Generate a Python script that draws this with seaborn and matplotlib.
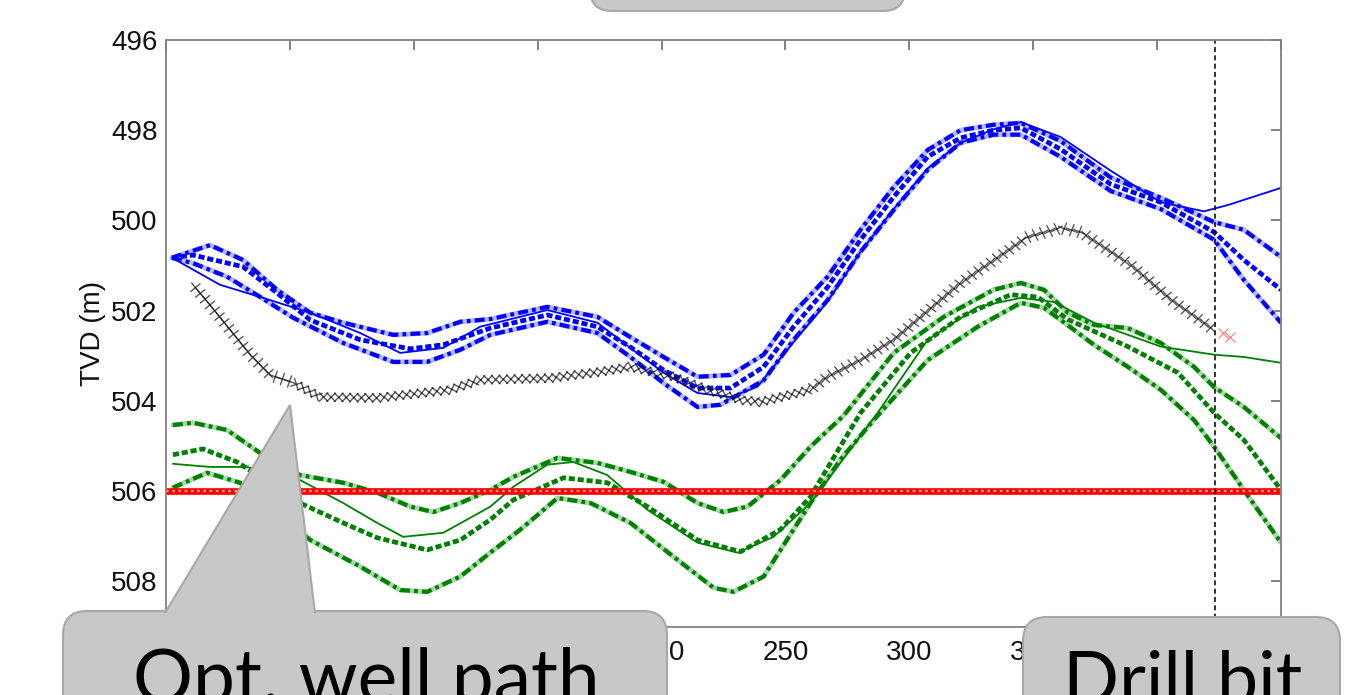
import matplotlib
matplotlib.use("Agg")
import matplotlib.pyplot as plt
import matplotlib.patheffects as pe
from matplotlib.patches import FancyBboxPatch, Polygon
from matplotlib.transforms import IdentityTransform
import seaborn as sns

# ---- data (x = along-hole distance, y = TVD in m) ----
blue_true_x = [2.4, 21.8, 38, 58.2, 78.4, 94.5, 111.9, 126.8, 153.9, 174.1, 187.4, 200.8, 214.5, 227.8,
               238.7, 253.3, 267, 280.3, 293.7, 307.4, 320.7, 334, 345, 361, 381.3, 401.5, 418.9,
               428.6, 450]
blue_true_y = [500.83, 501.43, 501.7, 502.05, 502.5, 502.94, 502.83, 502.36, 501.99, 502.27, 502.83,
               503.38, 503.83, 503.92, 503.69, 502.7, 501.8, 500.7, 499.75, 498.85, 498.28, 497.98,
               497.82, 498.15, 498.9, 499.6, 499.8, 499.66, 499.28]

blue_up_x = [2.4, 17.8, 31.1, 44.8, 58.2, 71.5, 91.7, 105.4, 118.8, 130.9, 153.9, 174.1, 187.4, 200.8,
             214.5, 227.8, 241.2, 253.3, 267, 280.3, 293.7, 307.4, 320.7, 334, 345, 361, 381.3, 401.5,
             423, 435, 450]
blue_up_y = [500.83, 500.55, 500.88, 501.54, 502.05, 502.27, 502.54, 502.5, 502.25, 502.19, 501.92,
             502.14, 502.59, 503.03, 503.47, 503.43, 502.98, 502.05, 501.25, 500.21, 499.26, 498.44,
             498.0, 497.88, 497.84, 498.24, 499.05, 499.5, 500.04, 500.21, 500.81]

blue_mid_x = [2.4, 10.9, 31.1, 44.8, 58.2, 78.4, 98.6, 111.9, 130.9, 153.9, 174.1, 187.4, 200.8, 214.5,
              227.8, 241.2, 253.3, 267, 280.3, 293.7, 307.4, 320.7, 334, 345, 361, 381.3, 401.5, 423,
              435, 450]
blue_mid_y = [500.83, 500.77, 501.03, 501.61, 502.21, 502.65, 502.85, 502.76, 502.39, 502.1, 502.36,
              502.81, 503.32, 503.72, 503.72, 503.25, 502.36, 501.48, 500.43, 499.48, 498.59, 498.17,
              498.0, 497.95, 498.42, 499.2, 499.6, 500.26, 500.88, 501.54]

blue_low_x = [2.4, 10.9, 24.6, 38, 51.3, 71.5, 91.7, 105.4, 118.8, 130.9, 153.9, 174.1, 187.4, 200.8,
              214.5, 223.8, 241.2, 253.3, 267, 280.3, 293.7, 307.4, 320.7, 334, 345, 361, 381.3,
              401.5, 423, 435, 450]
blue_low_y = [500.83, 500.95, 501.25, 501.7, 502.16, 502.72, 503.14, 503.14, 502.87, 502.54, 502.25,
              502.5, 503.03, 503.61, 504.14, 504.09, 503.55, 502.65, 501.77, 500.7, 499.77, 498.88,
              498.28, 498.1, 498.1, 498.59, 499.35, 499.75, 500.43, 501.32, 502.27]

green_true_x = [2.8, 17.8, 32.7, 54.1, 71.5, 85.2, 95.7, 111.9, 130.9, 140.2, 153.9, 164.4, 178.1,
                194.3, 214.5, 230.7, 245.2, 260.1, 272.3, 287.2, 307.4, 327.6, 345, 358.3, 374.5,
                401.5, 423, 435, 450]
green_true_y = [505.4, 505.47, 505.47, 505.76, 506.27, 506.71, 507.02, 506.93, 506.35, 505.91, 505.42,
                505.36, 505.65, 506.42, 507.15, 507.37, 507.02, 506.27, 505.37, 504.27, 502.65, 501.92,
                501.72, 501.81, 502.27, 502.8, 502.98, 503.03, 503.16]

green_up_x = [2.8, 10.9, 24.6, 38, 54.1, 71.5, 85.2, 98.6, 107.9, 118.8, 130.9, 140.2, 158, 174.1,
              187.4, 200.8, 214.5, 225, 234.7, 248, 260.1, 273.5, 293.7, 313.9, 334, 345, 354.3, 364,
              374.5, 388.2, 401.5, 414.9, 423, 435, 450]
green_up_y = [504.54, 504.49, 504.65, 505.16, 505.65, 505.82, 506.04, 506.35, 506.47, 506.27, 505.98,
              505.69, 505.27, 505.38, 505.58, 505.8, 506.27, 506.47, 506.35, 505.76, 505.02, 504.33,
              502.94, 502.14, 501.54, 501.39, 501.54, 502.05, 502.32, 502.39, 502.72, 503.25, 503.7,
              504.14, 504.83]

green_mid_x = [2.8, 14.9, 28.7, 54.1, 71.5, 85.2, 105.4, 118.8, 130.9, 140.2, 160.4, 178.1, 194.3,
               214.5, 231.9, 248, 260.1, 272.3, 280.3, 300.5, 320.7, 340.9, 351.8, 364, 388.2, 408.4,
               423, 435, 450]
green_mid_y = [505.2, 505.07, 505.36, 506.27, 506.71, 507.04, 507.31, 507.09, 506.64, 506.2, 505.71,
               505.82, 506.35, 507.09, 507.35, 506.86, 506.13, 505.0, 504.27, 502.94, 502.14, 501.65,
               501.7, 502.2, 502.8, 503.38, 504.27, 504.87, 505.98]

green_low_x = [2.8, 16.6, 29.9, 58.2, 78.4, 94.5, 105.4, 118.8, 130.9, 143, 158, 171.3, 187.4, 204.8,
               221, 229, 241.2, 260.1, 272.3, 285.6, 307.4, 327.6, 345, 354.3, 361.1, 374.5, 388.2,
               401.5, 414.9, 423, 435, 450]
green_low_y = [505.93, 505.6, 505.82, 507.09, 507.68, 508.2, 508.24, 507.9, 507.37, 506.86, 506.16,
               506.27, 506.71, 507.46, 508.15, 508.24, 507.9, 506.27, 505.3, 504.43, 503.1, 502.36,
               501.83, 501.94, 502.21, 502.76, 503.25, 503.76, 504.43, 505.02, 505.98, 507.15]

# optimised well path (crosses) up to the drill bit
well_x = [10.9, 17.8, 25.9, 34, 42, 51.3, 62.2, 85.2, 114.7, 126.8, 155, 175.3, 187.4, 204.8, 218.5,
          231.9, 240, 260, 267, 280.3, 293.7, 320.7, 347.8, 361, 369.2, 389.4, 405.6, 422.9]
well_y = [501.43, 501.88, 502.43, 502.98, 503.43, 503.6, 503.92, 503.94, 503.76, 503.54, 503.5,
          503.36, 503.25, 503.47, 503.76, 503.98, 504.03, 503.76, 503.47, 503.1, 502.65, 501.39,
          500.37, 500.17, 500.26, 500.99, 501.76, 502.43]
next_x = [426.6, 429.4]
next_y = [502.5, 502.59]

oil_water_x = [0, 450]
oil_water_y = [506, 506]

drill_bit_x = 423.3
x_ticks = [0, 50, 100, 150, 200, 250, 300, 350, 400, 450]
y_ticks = [496, 498, 500, 502, 504, 506, 508]

sns.set_theme(style="white")
plt.rcParams['font.family'] = ['Liberation Sans', 'DejaVu Sans']

W, H = 1355, 695
fig = plt.figure(figsize=(W / 100, H / 100), dpi=100)
ax = fig.add_axes([166 / W, 1 - 627 / H, (1281 - 166) / W, (627 - 40) / H])


def band(dark, light, tx, ty, ux, uy, mx, my, lx, ly):
    for xs, ys in [(ux, uy), (lx, ly)]:
        sns.lineplot(x=xs, y=ys, ax=ax, color=light, lw=3.6, sort=False, estimator=None)
        sns.lineplot(x=xs, y=ys, ax=ax, color=dark, lw=3.0, sort=False, estimator=None,
                     linestyle=(0, (2.4, 1.0, 0.9, 1.0)))
    sns.lineplot(x=mx, y=my, ax=ax, color=dark, lw=3.4, sort=False, estimator=None,
                 linestyle=(0, (1.3, 0.6)))
    sns.lineplot(x=tx, y=ty, ax=ax, color=dark, lw=1.3, sort=False, estimator=None)


band("#0000ff", "#b8b8ff", blue_true_x, blue_true_y, blue_up_x, blue_up_y,
     blue_mid_x, blue_mid_y, blue_low_x, blue_low_y)
band("#008000", "#a8d8a8", green_true_x, green_true_y, green_up_x, green_up_y,
     green_mid_x, green_mid_y, green_low_x, green_low_y)

# oil-water contact
sns.lineplot(x=oil_water_x, y=oil_water_y, ax=ax, color="#ff0000", lw=4.8)
sns.lineplot(x=oil_water_x, y=oil_water_y, ax=ax, color="#ff9a9a", lw=1.6,
             linestyle=(0, (1.2, 1.6)))

# well path drawn as a chain of screen-aligned crosses; each stretch gets its own
# tick angles so the arms stay at +-45 degrees on screen
stretches = [(0, 6, -44), (5, 18, 0), (17, 24, 33), (23, len(well_x), -34)]
for i0, i1, seg in stretches:
    cross = [pe.TickedStroke(spacing=5.4, angle=a - seg, length=0.8, linewidth=1.0,
                             foreground="#111111", alpha=0.7) for a in (45, 135, 225, 315)]
    sns.lineplot(x=well_x[i0:i1], y=well_y[i0:i1], ax=ax, color="#222222", lw=1.0, sort=False,
                 estimator=None, path_effects=cross)
ax.plot(next_x, next_y, ls="none", marker="x", ms=7, mew=0.9, color="#ff3030", alpha=0.6)

ax.axvline(drill_bit_x, color="#111111", lw=1.2, linestyle=(0, (3, 2)))

ax.set_xlim(0, 450)
ax.set_ylim(509.02, 496)
ax.set_xticks(x_ticks)
ax.set_yticks(y_ticks)
ax.tick_params(direction="in", length=7, width=1.1, color="#606060", top=True, right=True,
               labelsize=20, pad=6, labelcolor="#111111")
ax.tick_params(axis="x", pad=9)
for s in ax.spines.values():
    s.set_color("#808080")
    s.set_linewidth(1.3)
ax.set_ylabel("TVD (m)", fontsize=20, labelpad=4, color="#111111")
ax.set_xlabel("")

# callout boxes (pixel coordinates of the slide)
px = IdentityTransform()
box_face, box_edge = "#c8c8c8", "#a8a8a8"
top_box = FancyBboxPatch((590, 684), 315, 60, boxstyle="round,pad=0,rounding_size=22",
                         fc=box_face, ec=box_edge, lw=1.5, transform=px)
well_box = FancyBboxPatch((63, -40), 604, 124, boxstyle="round,pad=0,rounding_size=24",
                          fc=box_face, ec=box_edge, lw=1.5, transform=px)
pointer = Polygon([(165, 82), (290, 290), (315, 82)], closed=False, fc=box_face, ec=box_edge,
                  lw=1.5, transform=px)
bit_box = FancyBboxPatch((1023, -40), 317, 118, boxstyle="round,pad=0,rounding_size=24",
                         fc=box_face, ec=box_edge, lw=1.5, transform=px)
for p in (top_box, well_box, pointer, bit_box):
    fig.add_artist(p)

fig.text(133, -8, "Opt. well path", transform=px, fontsize=54, family=["Lato", "DejaVu Sans"],
         color="black", ha="left", va="baseline")
fig.text(1063, -8, "Drill bit", transform=px, fontsize=53, family=["Lato", "DejaVu Sans"],
         color="black", ha="left", va="baseline")

fig.savefig("out.png", dpi=100)
